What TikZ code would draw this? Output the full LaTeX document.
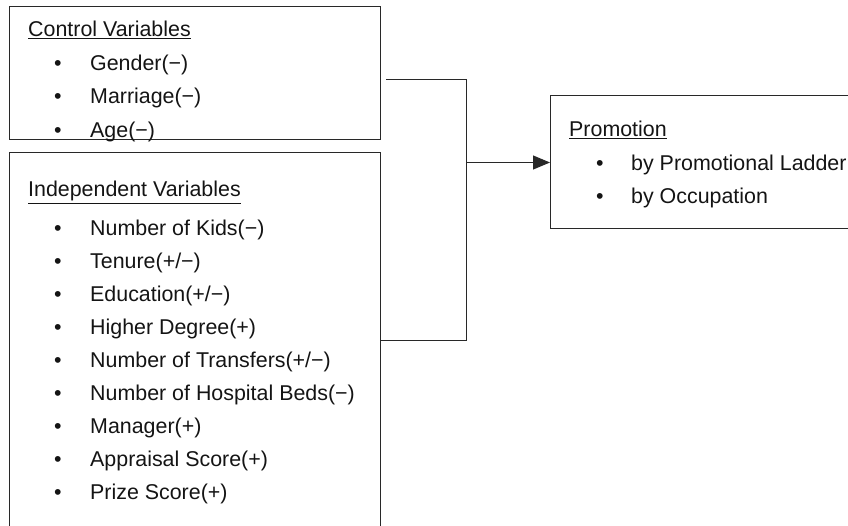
\documentclass[tikz,border=0pt]{standalone}
\usepackage{fontspec}
\setmainfont{Liberation Sans}
\usetikzlibrary{positioning,arrows.meta,calc}
\definecolor{pmLine}{RGB}{40,40,40}
\definecolor{pmText}{RGB}{20,20,20}

\begin{document}
\begin{tikzpicture}[x=1pt, y=-1pt,
  box/.style={draw=pmLine, line width=1pt, inner sep=0pt, outer sep=0pt, anchor=north west},
  title/.style={anchor=base west, inner sep=0pt, text=pmText, font=\fontsize{21.4}{25}\selectfont},
  item/.style={title},
  link/.style={draw=pmLine, line width=1pt}]
  \useasboundingbox (0,0) rectangle (848,526);
  \clip (0,0) rectangle (848,526);

  % Control variables
  \node[box, minimum width=371pt, minimum height=133pt] (ctrl) at (9,7) {};
  \node[title] (ctrlTitle) at (28,37) {\underline{Control Variables}};
  \foreach \lbl [count=\i] in {{Gender(−)}, {Marriage(−)}, {Age(−)}}
    \node[item] (ctrl\i) at (54,37+33.4*\i) {\makebox[36pt][l]{•}\lbl};

  % Independent variables
  \node[box, minimum width=371pt, minimum height=374pt] (indep) at (9,153) {};
  \node[title] (indepTitle) at (28,197) {\underline{Independent Variables}};
  \foreach \lbl [count=\i] in {{Number of Kids(−)}, {Tenure(+/−)}, {Education(+/−)},
      {Higher Degree(+)}, {Number of Transfers(+/−)}, {Number of Hospital Beds(−)},
      {Manager(+)}, {Appraisal Score(+)}, {Prize Score(+)}}
    \node[item] (indep\i) at (54,203.1+32.9*\i) {\makebox[36pt][l]{•}\lbl};

  % Promotion
  \node[box, minimum width=330pt, minimum height=133pt] (promo) at (550,96) {};
  \node[title] (promoTitle) at (569,137) {\underline{Promotion}};
  \node[item] (promo1) at (596,170.3) {\makebox[35pt][l]{•}by Promotional Ladder};
  \node[item] (promo2) at (596,203.6) {\makebox[35pt][l]{•}by Occupation};

  % Connectors
  \coordinate (ctrlOut) at ([xshift=6pt, yshift=-6.5pt]ctrl.east);
  \coordinate (join) at ([xshift=-84pt]promo.west);
  \draw[link] (ctrlOut) -| (join |- indep.east) -- (indep.east);
  \draw[link, -{Triangle[length=17pt, width=14pt]}] (join) -- (promo.west);
\end{tikzpicture}
\end{document}
